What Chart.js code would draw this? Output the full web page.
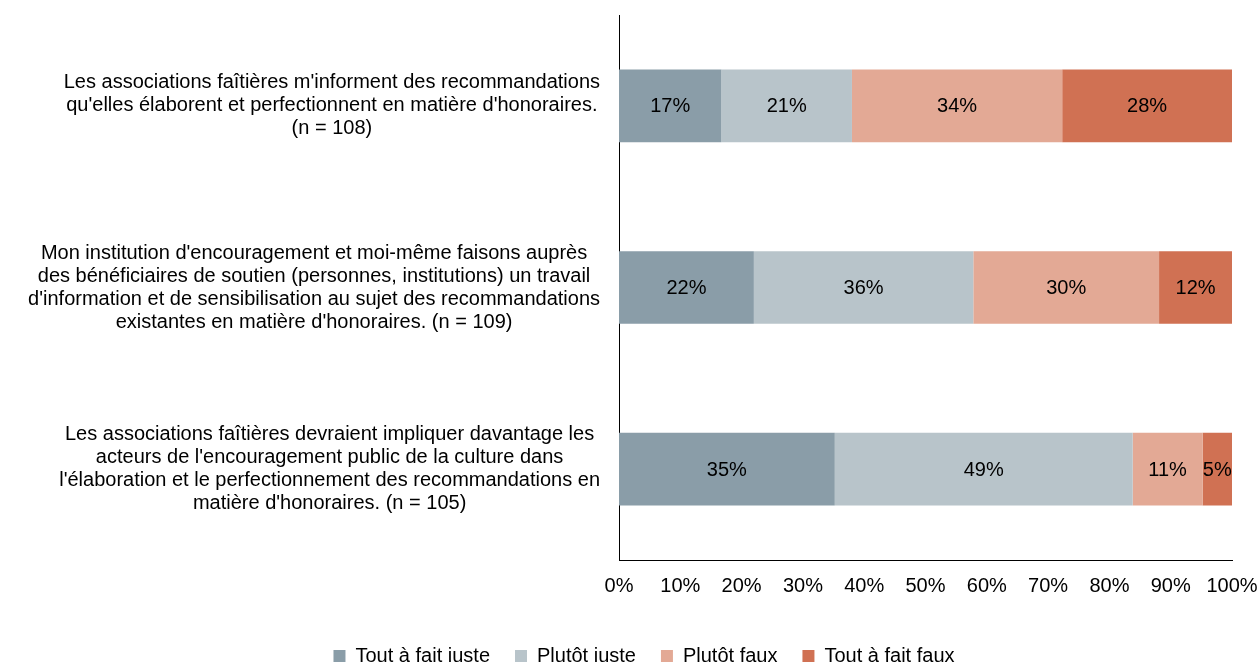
<!DOCTYPE html>
<html>
<head>
<meta charset="utf-8">
<script src="https://cdn.jsdelivr.net/npm/chart.js@4"></script>
<style>
  body { margin: 0; background: #fff; }
  #wrap { width: 1259px; height: 662px; }
</style>
</head>
<body>
<div id="wrap"><canvas id="graphique" width="1259" height="662"></canvas></div>
<script>
// libellés des questions (multi-lignes)
const categories = [
  ["Les associations faîtières m'informent des recommandations",
   "qu'elles élaborent et perfectionnent en matière d'honoraires.",
   "(n = 108)"],
  ["Mon institution d'encouragement et moi-même faisons auprès",
   "des bénéficiaires de soutien (personnes, institutions) un travail",
   "d'information et de sensibilisation au sujet des recommandations",
   "existantes en matière d'honoraires. (n = 109)"],
  ["Les associations faîtières devraient impliquer davantage les",
   "acteurs de l'encouragement public de la culture dans",
   "l'élaboration et le perfectionnement des recommandations en",
   "matière d'honoraires. (n = 105)"]
];

const seriesNames = ['Tout à fait juste', 'Plutôt juste', 'Plutôt faux', 'Tout à fait faux'];
const toutJuste = [16.7, 22.0, 35.2];
const plutotJuste = [21.3, 35.8, 48.6];
const plutotFaux = [34.3, 30.3, 11.4];
const toutFaux = [27.7, 11.9, 4.8];
const xTicks = [0, 10, 20, 30, 40, 50, 60, 70, 80, 90, 100];

const couleurs = ['#8a9da8', '#b8c4ca', '#e3a995', '#d07153'];
const police = 'Liberation Sans, Arial, sans-serif';

// étiquettes de valeur au centre des barres
const etiquettes = {
  id: 'etiquettes',
  afterDatasetsDraw(chart) {
    const ctx = chart.ctx;
    ctx.save();
    ctx.font = '20px ' + police;
    ctx.fillStyle = '#000';
    ctx.textAlign = 'center';
    ctx.textBaseline = 'middle';
    chart.data.datasets.forEach((ds, i) => {
      chart.getDatasetMeta(i).data.forEach((bar, j) => {
        const p = bar.getProps(['x', 'y', 'base'], true);
        ctx.fillText(Math.round(ds.data[j]) + '%', (p.x + p.base) / 2, p.y + 1);
      });
    });
    ctx.restore();
  }
};

// libellés de l'axe y : chaque bloc aligné à droite, lignes centrées
const libellesY = {
  id: 'libellesY',
  afterDraw(chart) {
    const ctx = chart.ctx;
    const y = chart.scales.y;
    const droite = y.right - 19;
    const interligne = 23;
    ctx.save();
    ctx.font = '20px ' + police;
    ctx.fillStyle = '#000';
    ctx.textAlign = 'center';
    ctx.textBaseline = 'middle';
    chart.data.labels.forEach((lignes, i) => {
      const large = Math.max(...lignes.map(l => ctx.measureText(l).width));
      const cx = droite - large / 2;
      const cy = y.getPixelForValue(i);
      const debut = cy - (lignes.length - 1) * interligne / 2;
      lignes.forEach((l, k) => ctx.fillText(l, cx, debut + k * interligne));
    });
    ctx.restore();
  },
  afterLayout(chart) {
    // légende décalée comme dans l'original
    chart.legend.left += 28;
    chart.legend.right += 28;
  }
};

const series = [toutJuste, plutotJuste, plutotFaux, toutFaux];

new Chart(document.getElementById('graphique'), {
  type: 'bar',
  data: {
    labels: categories,
    datasets: series.map((d, i) => ({
      label: seriesNames[i],
      data: d,
      backgroundColor: couleurs[i],
      borderWidth: 0,
      barPercentage: 0.4,
      categoryPercentage: 1.0
    }))
  },
  options: {
    indexAxis: 'y',
    responsive: false,
    animation: false,
    layout: { padding: { top: 15, left: 0, right: 27, bottom: -14 } },
    scales: {
      x: {
        stacked: true,
        min: 0,
        max: 100,
        afterBuildTicks: (s) => { s.ticks = xTicks.map(v => ({ value: v })); },
        afterFit: (s) => { s.height = 61; s.paddingLeft = 0; s.paddingRight = 0; },
        grid: { display: false, drawTicks: false },
        border: { display: true, color: '#000', width: 1 },
        ticks: {
          color: '#000',
          font: { size: 20, family: police },
          padding: 14,
          maxRotation: 0,
          callback: (v) => v + '%'
        }
      },
      y: {
        stacked: true,
        grid: { display: false, drawTicks: false },
        border: { display: true, color: '#000', width: 1 },
        afterFit: (s) => { s.width = 619; s.paddingTop = 0; s.paddingBottom = 0; },
        ticks: { display: false }
      }
    },
    plugins: {
      legend: {
        position: 'bottom',
        labels: {
          color: '#000',
          boxWidth: 12,
          boxHeight: 12,
          padding: 25,
          font: { size: 20, family: police }
        }
      },
      tooltip: { enabled: false }
    }
  },
  plugins: [etiquettes, libellesY]
});
</script>
</body>
</html>
